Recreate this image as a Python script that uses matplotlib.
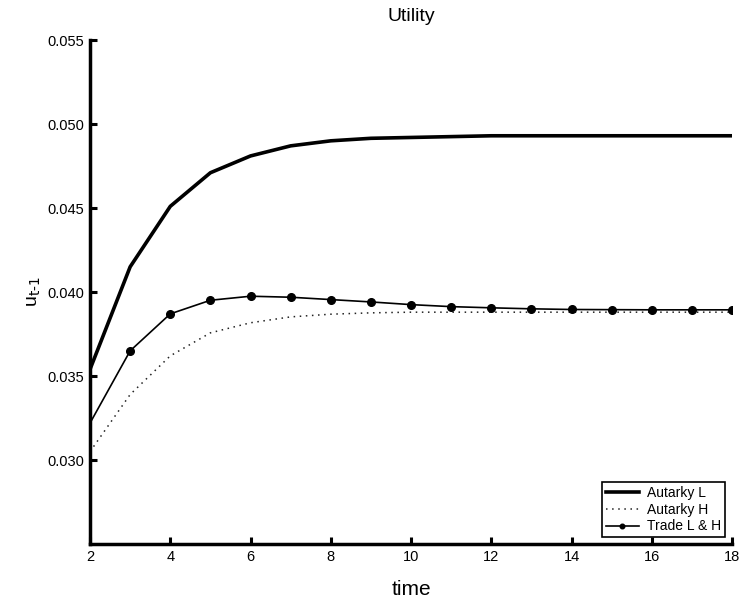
import matplotlib
matplotlib.use("Agg")
import matplotlib.pyplot as plt

plt.rcParams['font.family'] = ['Liberation Sans', 'DejaVu Sans']
plt.rcParams['mathtext.default'] = 'regular'

time = list(range(2, 19))
autarky_L = [0.0354, 0.0415, 0.0451, 0.0471, 0.0481, 0.0487, 0.0490, 0.04915, 0.0492,
             0.04925, 0.0493, 0.0493, 0.0493, 0.0493, 0.0493, 0.0493, 0.0493]
autarky_H = [0.0305, 0.0339, 0.0362, 0.03757, 0.03817, 0.03852, 0.03868, 0.03876, 0.0388,
             0.0388, 0.0388, 0.0388, 0.0388, 0.0388, 0.0388, 0.0388, 0.0388]
trade_LH = [0.0322, 0.0365, 0.0387, 0.03951, 0.03975, 0.03969, 0.03955, 0.03941, 0.03925,
            0.03913, 0.03906, 0.03900, 0.03896, 0.03895, 0.03894, 0.03894, 0.03894]

xticks = [2, 4, 6, 8, 10, 12, 14, 16, 18]
yticks = [0.030, 0.035, 0.040, 0.045, 0.050, 0.055]
ytick_labels = ['0.030', '0.035', '0.040', '0.045', '0.050', '0.055']

fig = plt.figure(figsize=(7.41, 6.0), dpi=100)
ax = fig.add_axes([0.1215, 0.0933, 0.8664, 0.84])

ax.plot(time, autarky_L, color='black', lw=2.6, label='Autarky L', solid_joinstyle='round')
ax.plot(time, autarky_H, color='#222222', lw=1.1, linestyle=(0, (1, 3)), label='Autarky H')
ax.plot(time, trade_LH, color='black', lw=1.2, marker='o', markersize=5.5,
        markevery=slice(1, None), label='Trade L & H')

ax.set_xlim(2, 18)
ax.set_ylim(0.025, 0.055)
ax.set_xticks(xticks)
ax.set_yticks(yticks)
ax.set_yticklabels(ytick_labels)
ax.tick_params(direction='in', length=5, width=2.2, labelsize=10.5, pad=4)

for s in ['top', 'right']:
    ax.spines[s].set_visible(False)
for s in ['left', 'bottom']:
    ax.spines[s].set_linewidth(2.5)

ax.set_title('Utility', fontsize=14, pad=14)
ax.set_xlabel('time', fontsize=15, labelpad=12)
ax.set_ylabel(r'u$_{\text{t-1}}$', fontsize=14, labelpad=4)

leg = ax.legend(loc='lower right', fontsize=10, frameon=True, fancybox=False,
                edgecolor='black', framealpha=1, borderpad=0.25, labelspacing=0.2,
                handlelength=2.4, handletextpad=0.6, markerscale=0.6,
                borderaxespad=0, bbox_to_anchor=(0.989, 0.014))
leg.get_frame().set_linewidth(1.2)

fig.savefig('out.png', dpi=100)
